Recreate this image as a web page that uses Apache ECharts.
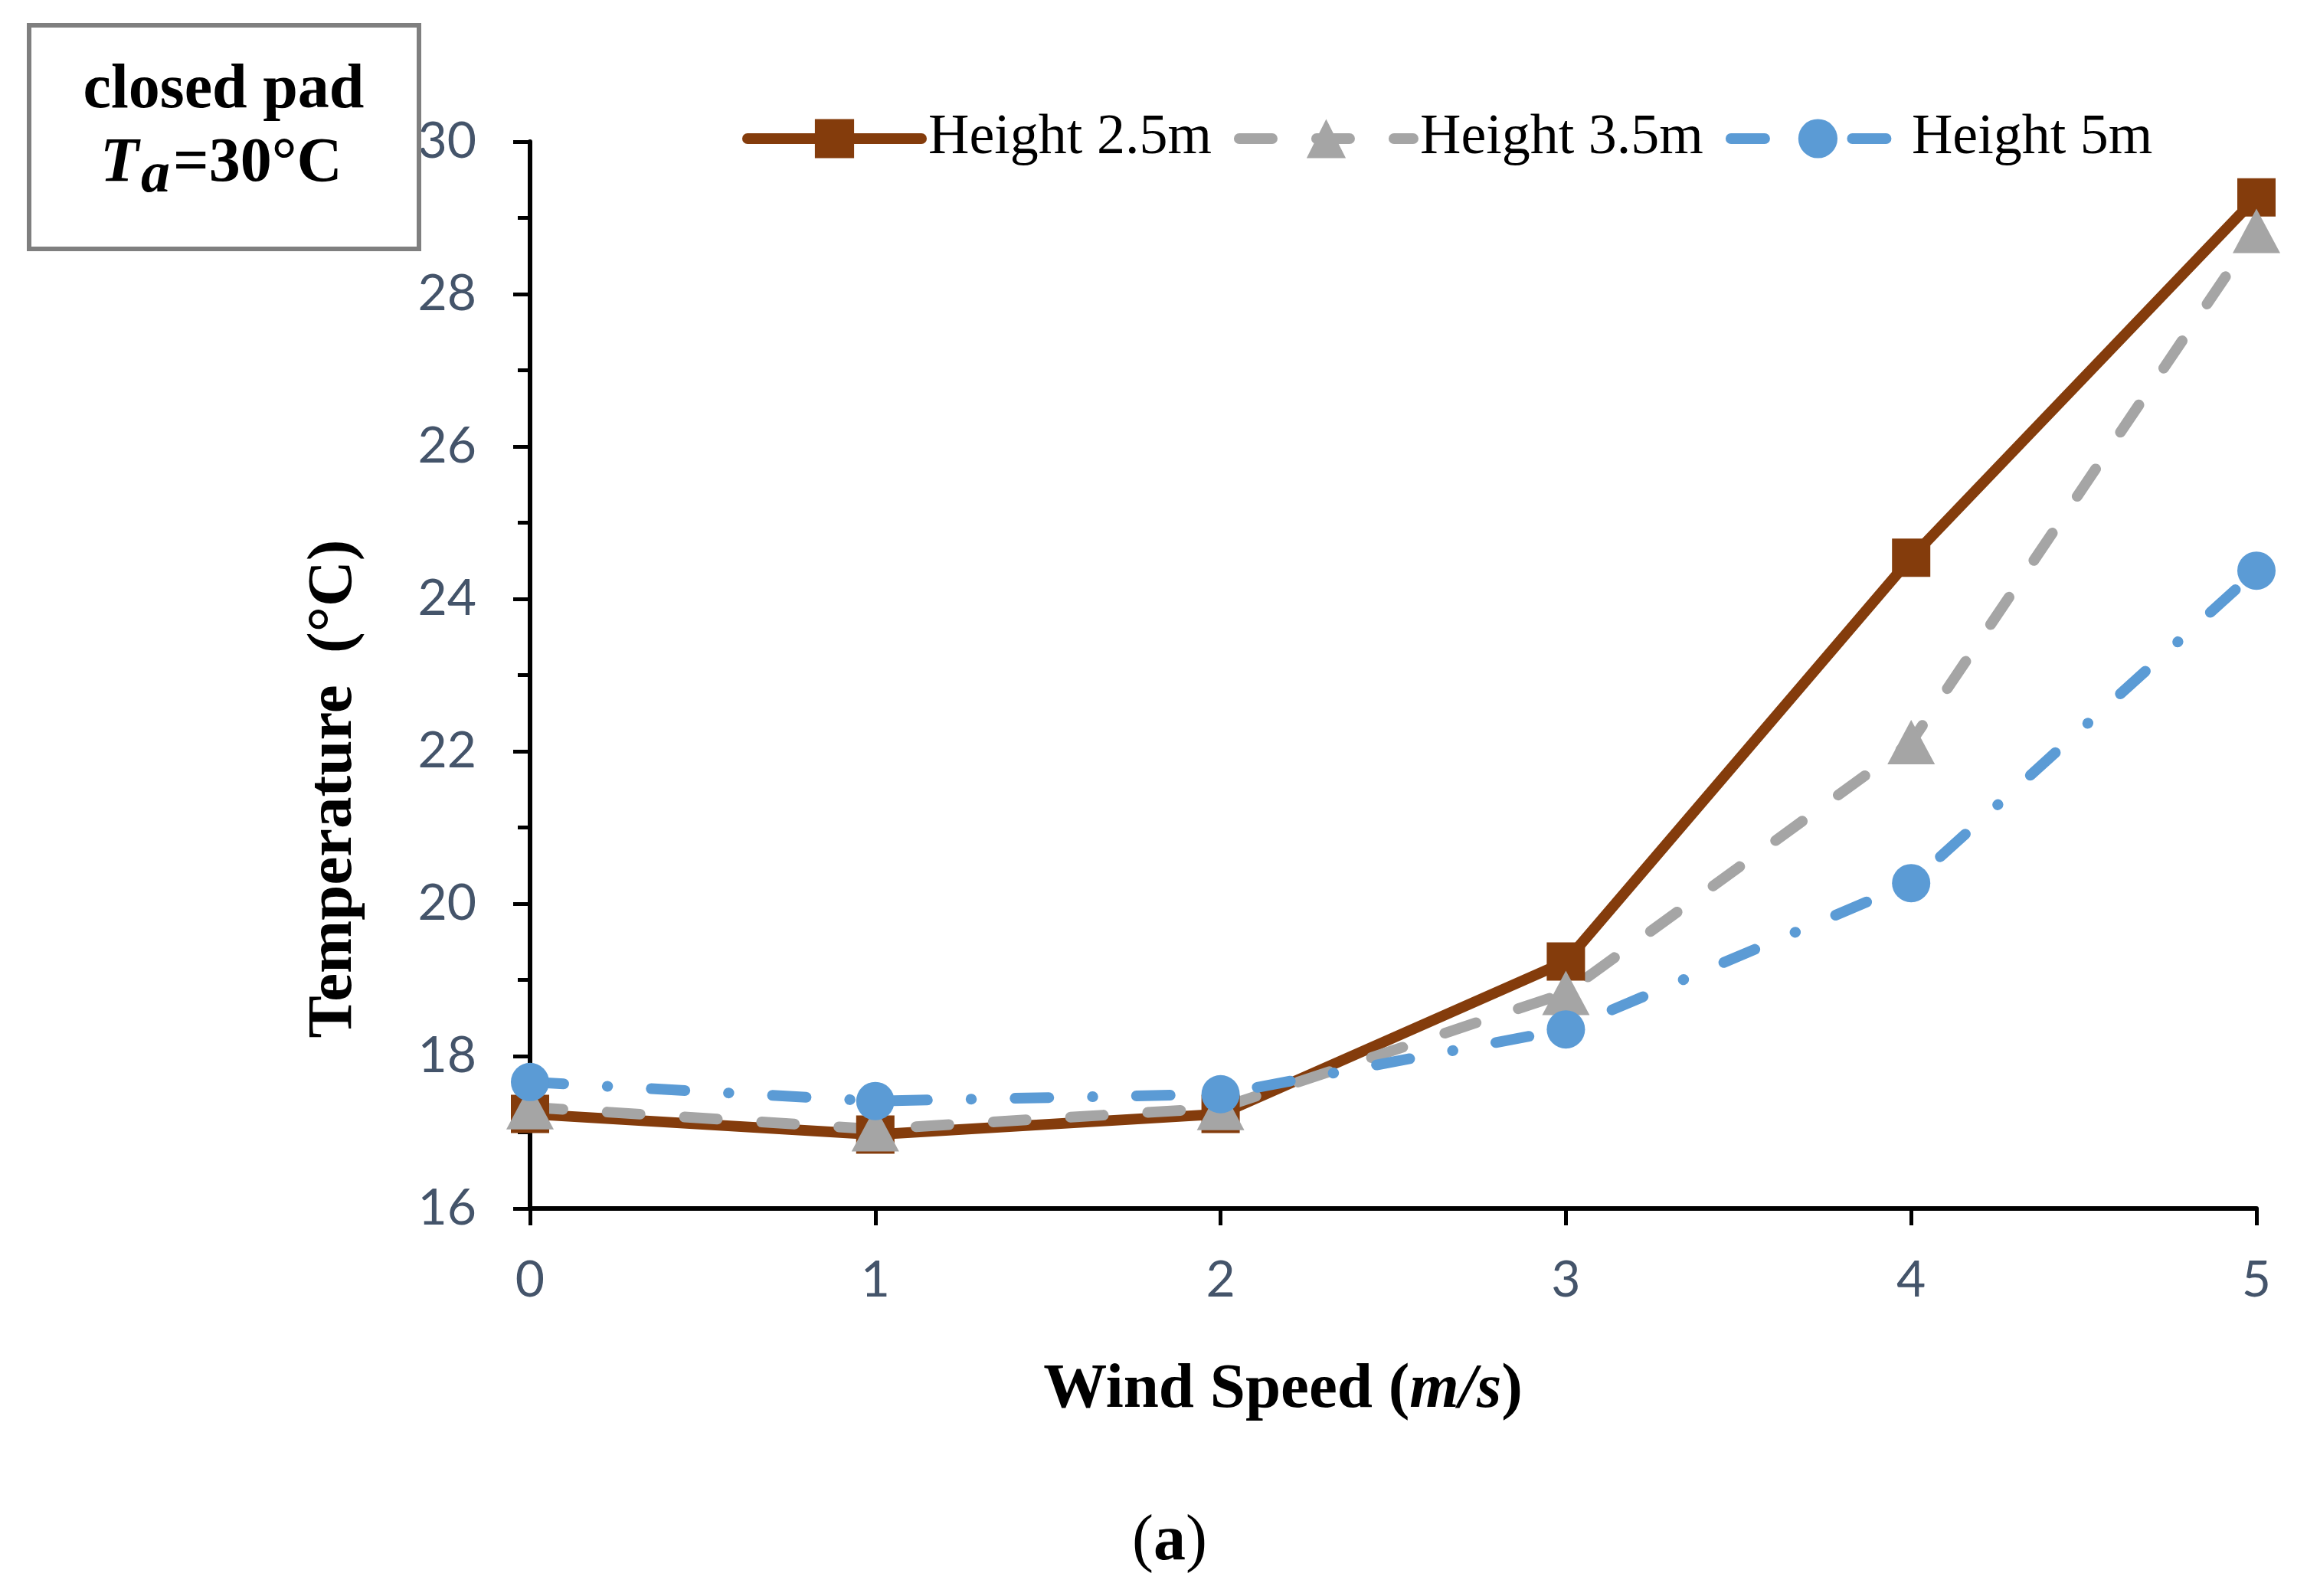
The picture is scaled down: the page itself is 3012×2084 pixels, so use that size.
<!DOCTYPE html>
<html><head><meta charset="utf-8">
<script src="https://cdn.jsdelivr.net/npm/echarts@6/dist/echarts.min.js"></script>
<style>html,body{margin:0;padding:0;background:#fff}#c{width:3012px;height:2084px}</style>
</head><body><div id="c"></div>
<script>
// ---- data ----
const windSpeed = [0, 1, 2, 3, 4, 5];
const height25 = [17.24, 16.97, 17.24, 19.24, 24.54, 29.27];
const height35 = [17.33, 17.04, 17.32, 18.83, 22.12, 28.83];
const height5  = [17.66, 17.41, 17.50, 18.35, 20.27, 24.37];
const seriesNames = ['Height 2.5m', 'Height 3.5m', 'Height 5m'];
const yRange = { min: 16, max: 30, interval: 2 };
const xRange = { min: 0, max: 5, interval: 1 };
const xTitle = 'Wind Speed (';
const xTitleUnit = 'm/s';
const yTitle = 'Temperature  (°C)';
const boxLine1 = 'closed pad';
const panelLabel = 'a';

const SERIF = '"Liberation Serif", "Times New Roman", serif';
const SANS = 'Lato, "Open Sans", sans-serif';
const C_BROWN = '#843C0C', C_GRAY = '#A5A5A5', C_BLUE = '#5B9BD5';

function pairs(ys) { return windSpeed.map((x, i) => [x, ys[i]]); }

const chart = echarts.init(document.getElementById('c'), null, { renderer: 'canvas' });
const LW = 14;
chart.setOption({
  animation: false,
  backgroundColor: '#ffffff',
  grid: { left: 692, right: 66, top: 185, bottom: 506, containLabel: false },
  legend: {
    data: seriesNames,
    left: 964, top: 139,
    itemWidth: 227, itemHeight: 64, itemGap: 29,
    textStyle: { fontFamily: SERIF, fontSize: 74, color: '#000', padding: [0, 0, 0, 4] },
    lineStyle: { width: LW }
  },
  xAxis: {
    type: 'value', min: xRange.min, max: xRange.max, interval: xRange.interval,
    axisLine: { show: true, onZero: false, lineStyle: { color: '#000', width: 6 } },
    axisTick: { show: true, length: 22, lineStyle: { color: '#000', width: 5 } },
    axisLabel: { fontFamily: SANS, fontSize: 66, color: '#44546A', margin: 61 },
    splitLine: { show: false }
  },
  yAxis: {
    type: 'value', min: yRange.min, max: yRange.max, interval: yRange.interval,
    axisLine: { show: true, onZero: false, lineStyle: { color: '#000', width: 6 } },
    axisTick: { show: true, length: 22, lineStyle: { color: '#000', width: 5 } },
    minorTick: { show: true, splitNumber: 2, length: 16, lineStyle: { color: '#000', width: 5 } },
    axisLabel: { fontFamily: SANS, fontSize: 66, color: '#44546A', margin: 70 },
    splitLine: { show: false }
  },
  series: [
    {
      name: seriesNames[0], type: 'line', data: pairs(height25),
      symbol: 'rect', symbolSize: 50,
      lineStyle: { color: C_BROWN, width: LW, type: 'solid', cap: 'round', join: 'round' },
      itemStyle: { color: C_BROWN, borderWidth: 0 }
    },
    {
      name: seriesNames[1], type: 'line', data: pairs(height35),
      symbol: 'triangle', symbolSize: [62, 58],
      lineStyle: { color: C_GRAY, width: LW, type: [43, 58], cap: 'round', join: 'round' },
      itemStyle: { color: C_GRAY, borderWidth: 0 }
    },
    {
      name: seriesNames[2], type: 'line', data: pairs(height5),
      symbol: 'circle', symbolSize: 50,
      lineStyle: { color: C_BLUE, width: LW, type: [44, 57, 0.5, 57], cap: 'round', join: 'round' },
      itemStyle: { color: C_BLUE, borderWidth: 0 }
    }
  ],
  graphic: [
    { type: 'rect', shape: { x: 38, y: 33, width: 509, height: 292 },
      style: { fill: '#fff', stroke: '#7F7F7F', lineWidth: 6 }, z: 10 },
    { type: 'text', x: 292, y: 119, z: 11,
      style: { text: boxLine1, fontFamily: SERIF, fontSize: 82, fontWeight: 'bold', fill: '#000',
               align: 'center', verticalAlign: 'middle', textAlign: 'center', textVerticalAlign: 'middle' } },
    { type: 'text', x: 131, y: 215, z: 11,
      style: { text: 'T', fontFamily: SERIF, fontSize: 82, fontWeight: 'bold', fontStyle: 'italic', fill: '#000',
               align: 'left', verticalAlign: 'middle', textAlign: 'left', textVerticalAlign: 'middle' } },
    { type: 'text', x: 184, y: 230, z: 11,
      style: { text: 'a', fontFamily: SERIF, fontSize: 76, fontWeight: 'bold', fontStyle: 'italic', fill: '#000',
               align: 'left', verticalAlign: 'middle', textAlign: 'left', textVerticalAlign: 'middle' } },
    { type: 'text', x: 226, y: 215, z: 11,
      style: { text: '=30°C', fontFamily: SERIF, fontSize: 82, fontWeight: 'bold', fill: '#000',
               align: 'left', verticalAlign: 'middle', textAlign: 'left', textVerticalAlign: 'middle' } },
    { type: 'text', x: 437, y: 1030, rotation: Math.PI / 2, z: 11,
      style: { text: yTitle, fontFamily: SERIF, fontSize: 83, fontWeight: 'bold', fill: '#000',
               align: 'center', verticalAlign: 'middle', textAlign: 'center', textVerticalAlign: 'middle' } },
    { type: 'text', x: 1675, y: 1816, z: 11,
      style: { text: '{b|' + xTitle + '}{i|' + xTitleUnit + '}{b|)}',
               rich: {
                 b: { fontFamily: SERIF, fontSize: 83, fontWeight: 'bold', fill: '#000', color: '#000' },
                 i: { fontFamily: SERIF, fontSize: 83, fontWeight: 'bold', fontStyle: 'italic', fill: '#000', color: '#000' }
               },
               align: 'center', verticalAlign: 'middle', textAlign: 'center', textVerticalAlign: 'middle' } },
    { type: 'text', x: 1527, y: 2014, z: 11,
      style: { text: '{r|(}{b|' + panelLabel + '}{r|)}',
               rich: {
                 r: { fontFamily: SERIF, fontSize: 84, fill: '#000', color: '#000' },
                 b: { fontFamily: SERIF, fontSize: 84, fontWeight: 'bold', fill: '#000', color: '#000' }
               },
               align: 'center', verticalAlign: 'middle', textAlign: 'center', textVerticalAlign: 'middle' } }
  ]
});
</script>
</body></html>
